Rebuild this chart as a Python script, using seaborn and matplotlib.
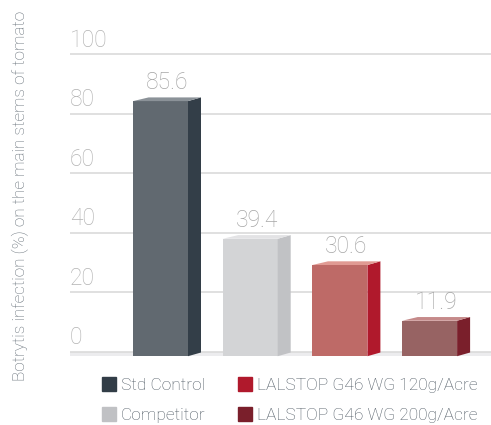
import numpy as np
import pandas as pd
import matplotlib
matplotlib.use("Agg")
import matplotlib.pyplot as plt
from matplotlib.patches import Polygon
from matplotlib.lines import Line2D
import seaborn as sns

# ---- data ----
categories = ["Std Control", "Competitor", "LALSTOP G46 WG 120g/Acre", "LALSTOP G46 WG 200g/Acre"]
values = [85.6, 39.4, 30.6, 11.9]
value_labels = ["85.6", "39.4", "30.6", "11.9"]
yticks = [0, 20, 40, 60, 80, 100]
ylabel = "Botrytis infection (%) on the main stems of tomato"

front_colors = ["#5f6972", "#d3d4d6", "#cd5d58", "#a05a5b"]
side_colors = ["#333e48", "#c1c2c5", "#b0192c", "#7a1f2b"]
top_colors = ["#8b9298", "#e3e3e5", "#e09a93", "#c58a8a"]
legend_colors = ["#323d47", "#c0c1c4", "#b0192c", "#7a1f2b"]

sns.set_theme(style="white")
plt.rcParams["font.family"] = ["Roboto", "DejaVu Sans"]
plt.rcParams["font.weight"] = "light"

W, H = 491, 425
fig = plt.figure(figsize=(W / 100, H / 100), dpi=100)
# axes in pixel terms
ax_l, ax_r, ax_t, ax_b = 70, 491, 0, 362
ax = fig.add_axes([ax_l / W, 1 - ax_b / H, (ax_r - ax_l) / W, (ax_b - ax_t) / H])

pxy = 2.98  # px per unit
zero_px = 352
ymin = -(ax_b - zero_px) / pxy
ymax = (zero_px - ax_t) / pxy
spacing = 89.7
c0 = 160.5
xmin = -(c0 - ax_l) / spacing
xmax = 3 + (ax_r - (c0 + 3 * spacing)) / spacing

df = pd.DataFrame({"cat": categories, "val": values})
sns.barplot(data=df, x="cat", y="val", hue="cat", palette=front_colors,
            dodge=False, width=55 / spacing, legend=False, ax=ax,
            linewidth=0, zorder=3)
ax.set_xlim(xmin, xmax)
ax.set_ylim(ymin, ymax)

ux = spacing  # px per x unit
uy = pxy
dx = 13 / ux
dy = 3.7 / uy
front_shift = 4.2 / uy

# floor band & gridlines
ax.fill_between([xmin, xmax], -front_shift, 0, color="#ececee", zorder=1, lw=0)
for t in yticks:
    ax.axhline(t, color="#dadada", lw=1.2, zorder=1)
    ax.text(0.0, t + 2.5 / uy, str(t), transform=ax.get_yaxis_transform(),
            ha="left", va="bottom", fontsize=16.5, color="#b3b3b3")

for i, p in enumerate(ax.patches):
    x0 = p.get_x()
    w = p.get_width()
    h = p.get_height()
    p.set_y(-front_shift)
    y0 = -front_shift
    y1 = y0 + h
    x1 = x0 + w
    side = Polygon([(x1, y0), (x1, y1), (x1 + dx, y1 + dy), (x1 + dx, y0 + dy)],
                   closed=True, facecolor=side_colors[i], lw=0, zorder=3)
    top = Polygon([(x0, y1), (x1, y1), (x1 + dx, y1 + dy), (x0 + dx * 1.2, y1 + dy)],
                  closed=True, facecolor=top_colors[i], lw=0, zorder=3)
    ax.add_patch(side)
    ax.add_patch(top)
    ax.text(x0 + (w + dx) / 2, y1 + dy + 3.5 / uy, value_labels[i], ha="center",
            va="bottom", fontsize=16.5, color="#a6a6a6", zorder=4)

ax.set_xticks([])
ax.set_yticks([])
ax.set_xlabel("")
ax.set_ylabel("")
for s in ax.spines.values():
    s.set_visible(False)

fig.text(20 / W, 1 - 196 / H, ylabel, rotation=90, ha="center", va="center",
         fontsize=12.3, color="#646e77")

handles = [Line2D([], [], marker="s", ls="", markersize=10, color=c) for c in legend_colors]
fig.legend(handles, categories, ncol=2, loc="upper left",
           bbox_to_anchor=(93 / W, 1 - 369 / H), frameon=False,
           fontsize=12.5, handlelength=0.8, handletextpad=0.3,
           columnspacing=1.9, labelspacing=0.85, borderpad=0,
           labelcolor="#4d5862")

fig.savefig("out.png", dpi=100)
